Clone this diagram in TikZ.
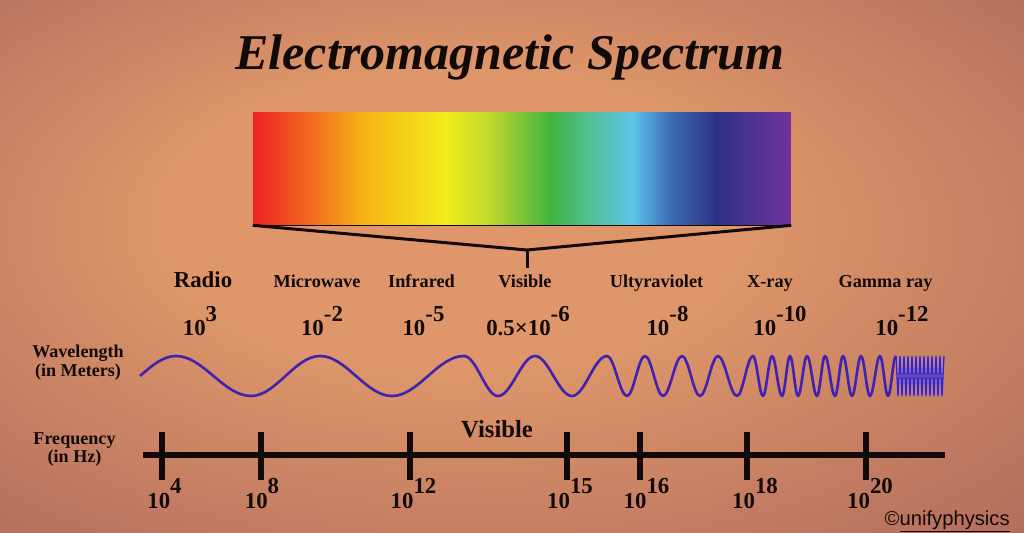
\documentclass[tikz,border=0pt]{standalone}
\usepackage{fontspec}
\setmainfont{Liberation Serif}
\newfontfamily\markfont{Liberation Sans}
\usepackage{tikz}
\definecolor{BgLight}{RGB}{222,150,106}
\definecolor{BgDark}{RGB}{178,108,92}
\definecolor{InkDark}{RGB}{18,10,8}
\definecolor{WaveBlue}{RGB}{64,36,176}
\definecolor{GammaBlue}{RGB}{40,36,236}
\definecolor{SpRed}{RGB}{236,34,36}
\definecolor{SpRedOr}{RGB}{240,82,32}
\definecolor{SpOrange}{RGB}{245,132,30}
\definecolor{SpGold}{RGB}{247,182,22}
\definecolor{SpYellow}{RGB}{243,236,26}
\definecolor{SpLime}{RGB}{192,216,46}
\definecolor{SpGreen}{RGB}{62,180,62}
\definecolor{SpTeal}{RGB}{82,192,150}
\definecolor{SpSky}{RGB}{92,196,234}
\definecolor{SpBlue}{RGB}{60,110,180}
\definecolor{SpNavy}{RGB}{44,50,132}
\definecolor{SpIndigo}{RGB}{76,50,146}
\definecolor{SpPurple}{RGB}{114,50,156}
\pgfdeclarehorizontalshading{spectrum}{100bp}{color(0bp)=(SpRed); color(25bp)=(SpRed);
  color(28.7bp)=(SpRedOr); color(32.1bp)=(SpOrange); color(35.4bp)=(SpGold);
  color(43bp)=(SpYellow); color(47bp)=(SpLime); color(52.7bp)=(SpGreen);
  color(56.3bp)=(SpTeal); color(60.3bp)=(SpSky); color(63.7bp)=(SpBlue);
  color(68bp)=(SpNavy); color(71.3bp)=(SpIndigo); color(75bp)=(SpPurple); color(100bp)=(SpPurple)}
\pgfdeclareradialshading{paper}{\pgfpoint{-4bp}{6bp}}{color(0bp)=(BgLight); color(14bp)=(BgLight);
  color(38bp)=(BgDark); color(50bp)=(BgDark)}
\newcommand\tenpow[1]{10\raisebox{.65em}{#1}}

\begin{document}
\begin{tikzpicture}[x=0.02cm,y=-0.02cm,
  band/.style={font=\bfseries\fontsize{10.4}{12}\selectfont,text=InkDark,anchor=base,inner sep=0pt},
  num/.style={font=\bfseries\fontsize{13}{14}\selectfont,text=InkDark,anchor=base,inner sep=0pt},
  side/.style={font=\bfseries\fontsize{10.3}{10.8}\selectfont,text=InkDark,align=center,inner sep=0pt},
  wave/.style={WaveBlue,line width=1.5pt,line join=round},
  gwave/.style={GammaBlue,line width=.75pt},
  ftick/.style={InkDark,line width=3pt}]
\useasboundingbox (0,0) rectangle (1024,533);
\shade[shading=paper] (0,0) rectangle (1024,533);
\node[font=\bfseries\itshape\fontsize{28.5}{30}\selectfont,text=InkDark,anchor=base,inner sep=0pt] (title) at (510,70){Electromagnetic Spectrum};
% colour bar and its bracket
\node[shade,shading=spectrum,minimum width=10.76cm,minimum height=2.26cm,inner sep=0pt] (bar) at (522,168.5){};
\draw[InkDark,line width=.6pt] (bar.south west)--(bar.south east);
% band names
\node[band,font=\bfseries\fontsize{13}{14}\selectfont] (radio) at (203,288){Radio};
\node[band] (micro) at (317,288){Microwave};
\node[band] (infra) at (421.5,288){Infrared};
\node[band] (vis) at (525,288){Visible};
\node[band] (uv) at (656.5,288){Ultyraviolet};
\node[band] (xray) at (770,288){X-ray};
\node[band] (gamma) at (885.5,288){Gamma ray};
\coordinate (apex) at (527,250);
\draw[InkDark,line width=1.7pt] (bar.south west)--(apex)--(bar.south east);
\draw[InkDark,line width=1.7pt,shorten >=4pt] (apex)--(apex |- vis.north);
% wavelengths
\node[num] (w3) at (200,336){\tenpow{3}};
\node[num] (w2) at (322,336){\tenpow{-2}};
\node[num] (w5) at (423.5,336){\tenpow{-5}};
\node[num] (w6) at (528,336){0.5×\tenpow{-6}};
\node[num] (w8) at (667.5,336){\tenpow{-8}};
\node[num] (w10) at (780,336){\tenpow{-10}};
\node[num] (w12) at (902,336){\tenpow{-12}};
\node[side] (wlen) at (78,363){Wavelength\\(in Meters)};
% the wave, shorter and shorter
\draw[wave] (140,376) sin (176,356)
  foreach \e [count=\i, remember=\e as \p (initially 176)] in {251,320,392,464,498,535,572,607,627,645,663,682,700,718,737,753,763,772,782,790,798,807,817,825,835,843,852,861,870,880,888,896}
  { cos ({(\p+\e)/2},376) sin (\e,{ifthenelse(isodd(\i),396,356)}) };
\draw[gwave] (896,356)
  foreach \e [count=\i] in {898,900,...,944}
  { -- (\e,{ifthenelse(isodd(\i),396,356)}) };
% frequency axis
\node[side] (freq) at (74.5,449.5){Frequency\\(in Hz)};
\coordinate (axl) at (143,455);
\coordinate (axr) at (945,455);
\draw[InkDark,line width=3.7pt] (axl)--(axr);
\foreach \t/\c/\e in {162/164.5/4,261/262/8,410/413.5/12,567/570/15,640/646.5/16,747/755/18,866/870/20}{
  \draw[ftick] (\t,432)--(\t,480);
  \node[num] (f\e) at (\c,508){\tenpow{\e}};
}
\node[num,font=\bfseries\fontsize{14}{16}\selectfont] (visf) at (497,437){Visible};
\node[font=\markfont\fontsize{11.5}{12}\selectfont,text=InkDark,anchor=base east,inner sep=0pt] (credit) at (1010,525){©\underline{unifyphysics}};
\end{tikzpicture}
\end{document}
